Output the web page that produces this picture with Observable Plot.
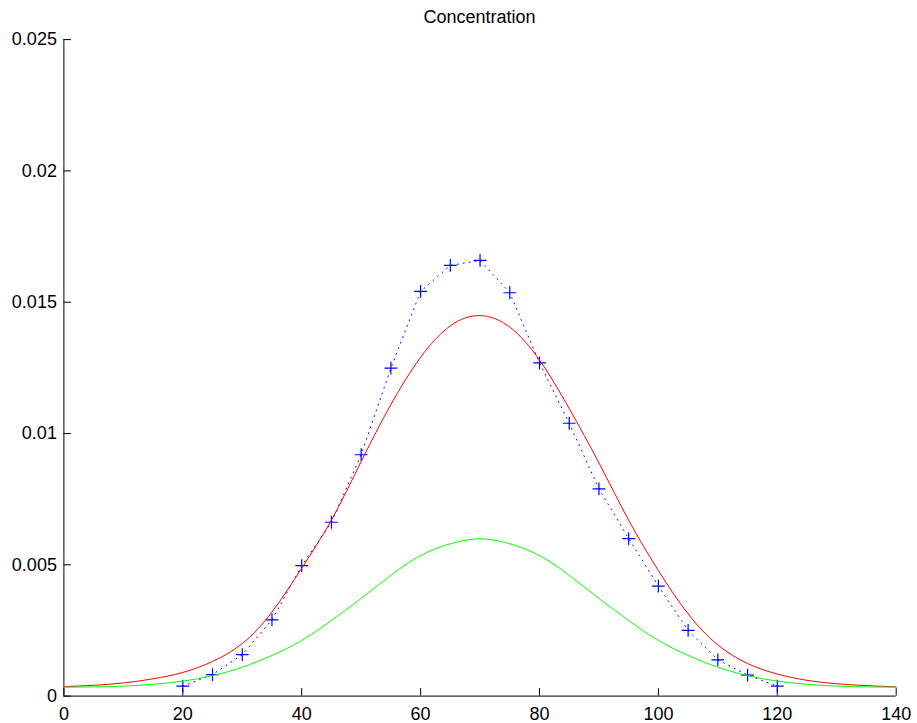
<!DOCTYPE html>
<html>
<head>
<meta charset="utf-8">
<script src="https://cdn.jsdelivr.net/npm/d3@7"></script>
<script src="https://cdn.jsdelivr.net/npm/@observablehq/plot@0.6"></script>
<style>
  html, body { margin: 0; padding: 0; background: #fff; }
  #wrap { width: 917px; height: 723px; position: relative; font-family: Arial, "Liberation Sans", Helvetica, sans-serif; }
  #title { position: absolute; top: 0; left: 63px; height: 34px; line-height: 34px; width: 833px; text-align: center; font-size: 18px; color: #000; z-index: 2; }
  #chart { position: absolute; top: 0; left: 0; }
</style>
</head>
<body>
<div id="wrap">
  <div id="chart"></div>
  <div id="title">Concentration</div>
</div>
<script>
// Measured data (blue "+" markers, joined by a dotted line)
const measuredX = [20, 25, 30, 35, 40, 45, 50, 55, 60, 65, 70, 75, 80, 85, 90, 95, 100, 105, 110, 115, 120];
const measuredY = [0.00038, 0.00082, 0.00158, 0.0029, 0.00497, 0.00662, 0.00919, 0.01249, 0.01541, 0.0164, 0.01659,
                   0.01536, 0.01269, 0.01039, 0.00789, 0.0060, 0.00419, 0.0025, 0.00138, 0.0008, 0.00038];

// Model curves
const curveX = [0, 5, 10, 15, 20, 25, 30, 35, 40, 45, 50, 55, 60, 65, 70,
                75, 80, 85, 90, 95, 100, 105, 110, 115, 120, 125, 130, 135, 140];
const redY = [0.00036, 0.00041, 0.00050, 0.00066, 0.00090, 0.00132, 0.0020, 0.0032, 0.00487, 0.00670, 0.00893, 0.01110, 0.01290, 0.01410, 0.01449,
              0.01405, 0.01280, 0.01095, 0.00888, 0.00670, 0.00478, 0.00313, 0.00195, 0.00124, 0.00084, 0.00060, 0.00047, 0.00040, 0.00035];
const greenY = [0.00034, 0.00035, 0.00038, 0.00045, 0.00057, 0.00078, 0.0011, 0.00155, 0.00212, 0.00288, 0.00372, 0.00460, 0.00535, 0.00580, 0.00599,
                0.00580, 0.00535, 0.00460, 0.00372, 0.00288, 0.00212, 0.00155, 0.0011, 0.00078, 0.00057, 0.00045, 0.00038, 0.00035, 0.00034];

const xTicks = [0, 20, 40, 60, 80, 100, 120, 140];
const yTicks = [0, 0.005, 0.01, 0.015, 0.02, 0.025];
const yTickLabels = ["0", "0.005", "0.01", "0.015", "0.02", "0.025"];

const measured = measuredX.map((x, i) => ({x, y: measuredY[i]}));
const red = curveX.map((x, i) => ({x, y: redY[i]}));
const green = curveX.map((x, i) => ({x, y: greenY[i]}));

const chart = Plot.plot({
  width: 917,
  height: 723,
  marginLeft: 63.4,
  marginRight: 21.3,
  marginTop: 39.1,
  marginBottom: 27.4,
  style: {fontFamily: 'Arial, "Liberation Sans", Helvetica, sans-serif', fontSize: "18px", color: "#000", background: "#fff"},
  x: {domain: [0, 140]},
  y: {domain: [0, 0.025]},
  marks: [
    Plot.axisX(xTicks, {tickSize: 0, tickPadding: 11, label: null, fontSize: 18}),
    Plot.axisY(yTicks, {tickSize: 0, tickPadding: 7, label: null, fontSize: 18,
      tickFormat: d => yTickLabels[yTicks.indexOf(d)]}),
    // inward-pointing ticks (MATLAB style)
    Plot.axisX(xTicks, {tickSize: 7.5, dy: -7.5, tickFormat: () => "", label: null, stroke: "#000"}),
    Plot.axisY(yTicks, {tickSize: 7.5, dx: 7.5, tickFormat: () => "", label: null, stroke: "#000"}),
    Plot.ruleX([0], {stroke: "#000", strokeWidth: 1}),
    Plot.ruleY([0], {stroke: "#000", strokeWidth: 1}),
    Plot.line(measured, {x: "x", y: "y", stroke: "#0000ff", strokeWidth: 1, strokeDasharray: "1,5"}),
    Plot.dot(measured, {x: "x", y: "y", symbol: "plus", r: 4.2, stroke: "#0000ff", strokeWidth: 1.2}),
    Plot.line(red, {x: "x", y: "y", stroke: "#ff0000", strokeWidth: 1, curve: "natural"}),
    Plot.line(green, {x: "x", y: "y", stroke: "#00ff00", strokeWidth: 1, curve: "natural"})
  ]
});
document.getElementById("chart").appendChild(chart);
</script>
</body>
</html>
